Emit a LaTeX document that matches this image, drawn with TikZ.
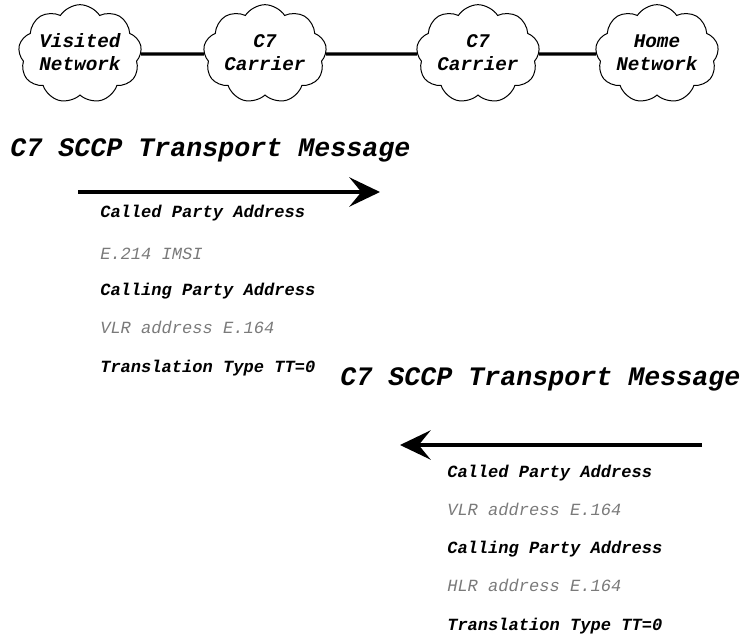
\documentclass[tikz,border=0pt]{standalone}
\usepackage{fontspec}
\setmonofont{Liberation Mono}
\usetikzlibrary{shapes.symbols,arrows.meta}
\definecolor{txtgray}{HTML}{7A7A7A}
\newcommand{\cloudlines}[2]{\raisebox{-3pt}{\begin{tabular}{@{}c@{}}#1\\#2\end{tabular}}}
\begin{document}
\begin{tikzpicture}[x=0.75pt,y=-0.75pt,
  netcloud/.style={cloud, cloud puffs=9, cloud puff arc=115, aspect=1.4, draw, line width=0.75pt,
    minimum width=90pt, minimum height=63pt, inner sep=0pt, align=center,
    font=\fontsize{14.5}{17.2}\selectfont\ttfamily\bfseries\itshape},
  link/.style={line width=2.6pt},
  title/.style={anchor=mid west, inner sep=0pt, font=\fontsize{20}{24}\selectfont\ttfamily\bfseries\itshape},
  fieldname/.style={anchor=mid west, inner sep=0pt, font=\fontsize{12.8}{15}\selectfont\ttfamily\bfseries\itshape},
  fieldval/.style={anchor=mid west, inner sep=0pt, text=txtgray, font=\fontsize{12.8}{15}\selectfont\ttfamily\itshape},
  msgarrow/.style={line width=2.3pt, -{Stealth[length=23pt, width=22pt, inset=9pt]}}
]
\useasboundingbox (0,0) rectangle (751,637);

\node[netcloud] (vn) at (80,54) {\cloudlines{Visited}{Network}};
\node[netcloud] (c1) at (265,54) {\cloudlines{C7}{Carrier}};
\node[netcloud] (c2) at (478,54) {\cloudlines{C7}{Carrier}};
\node[netcloud] (hn) at (657,54) {\cloudlines{Home}{Network}};
\draw[link] (vn.east) -- (c1.west);
\draw[link] (c1.east) -- (c2.west);
\draw[link] (c2.east) -- (hn.west);

\node[title] (t1) at (10,154) {C7 SCCP Transport Message};
\coordinate (a1s) at (78,192);
\coordinate (a1e) at (380,192);
\draw[msgarrow] (a1s) -- (a1e);
\node[fieldname] (f1) at (100,215) {Called Party Address};
\node[fieldval]  (f2) at (100,257) {E.214 IMSI};
\node[fieldname] (f3) at (100,293) {Calling Party Address};
\node[fieldval]  (f4) at (100,331) {VLR address E.164};
\node[fieldname] (f5) at (100,370) {Translation Type TT=0};

\node[title] (t2) at (340,383) {C7 SCCP Transport Message};
\coordinate (a2s) at (702,445);
\coordinate (a2e) at (400,445);
\draw[msgarrow] (a2s) -- (a2e);
\node[fieldname] (g1) at (447,475) {Called Party Address};
\node[fieldval]  (g2) at (447,513) {VLR address E.164};
\node[fieldname] (g3) at (447,551) {Calling Party Address};
\node[fieldval]  (g4) at (447,589) {HLR address E.164};
\node[fieldname] (g5) at (447,628) {Translation Type TT=0};
\end{tikzpicture}
\end{document}
